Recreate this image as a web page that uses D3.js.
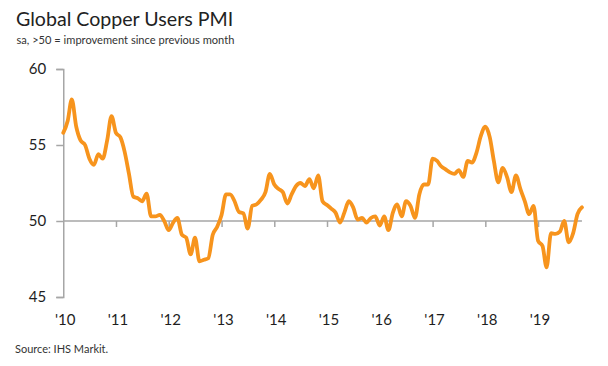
<!DOCTYPE html>
<html>
<head>
<meta charset="utf-8">
<script src="https://cdn.jsdelivr.net/npm/d3@7"></script>
<style>
  html, body { margin: 0; padding: 0; background: #fff; }
  svg { display: block; }
  text { font-family: "Source Sans Pro", "Lato", "Noto Sans", sans-serif; }
</style>
</head>
<body>
<svg id="chart" width="608" height="366"></svg>
<script>
// ---- data ----
const title = "Global Copper Users PMI";
const subtitle = "sa, >50 = improvement since previous month";
const source = "Source: IHS Markit.";
const startMonth = "2010-01";
const pmiValues = [
  55.8, 56.6, 58.0, 56.2, 55.3, 55.0, 54.1, 53.7, 54.4, 54.1, 55.3, 56.9,   // 2010
  55.8, 55.5, 54.6, 53.1, 51.6, 51.5, 51.3, 51.8, 50.3, 50.3, 50.4, 50.0,   // 2011
  49.4, 49.9, 50.2, 49.1, 48.9, 47.8, 48.9, 47.35, 47.45, 47.55, 49.1, 49.6, // 2012
  50.4, 51.75, 51.75, 51.3, 50.6, 50.5, 49.5, 51.0, 51.1, 51.4, 51.9, 53.1, // 2013
  52.4, 52.1, 51.9, 51.15, 51.75, 52.3, 52.5, 52.3, 52.75, 52.15, 53.0, 51.3, // 2014
  51.05, 50.8, 50.55, 49.9, 50.55, 51.3, 50.9, 50.1, 50.2, 49.9, 50.2, 50.3, // 2015
  49.7, 50.3, 49.4, 50.55, 51.1, 50.3, 51.3, 51.0, 50.2, 51.75, 52.4, 52.4, // 2016
  54.1, 53.95, 53.6, 53.4, 53.2, 53.1, 53.35, 52.9, 53.95, 53.85, 54.5, 55.6, // 2017
  56.2, 55.5, 53.95, 52.55, 53.5, 52.87, 51.9, 53.0, 52.1, 51.3, 50.45, 51.0, // 2018
  48.7, 48.35, 46.95, 49.2, 49.15, 49.3, 50.0, 48.6, 49.2, 50.45, 50.9       // 2019
];
const yTicks = [45, 50, 55, 60];
const yDomain = [45, 60];
const xTickYears = [2010, 2011, 2012, 2013, 2014, 2015, 2016, 2017, 2018, 2019];

// ---- build ----
const parse = d3.timeParse("%Y-%m");
const start = parse(startMonth);
const data = pmiValues.map((v, i) => ({ date: d3.timeMonth.offset(start, i), value: v }));
const xTickDates = xTickYears.map(yr => new Date(yr, 0, 1));

const svg = d3.select("#chart");
const plotLeft = 63.25, plotTop = 69, plotBottom = 297;
const monthPx = 52.75 / 12;
const plotRight = plotLeft + (pmiValues.length - 1) * monthPx;

const x = d3.scaleTime().domain([data[0].date, data[data.length - 1].date]).range([plotLeft, plotRight]);
const y = d3.scaleLinear().domain(yDomain).range([plotBottom, plotTop]);

const axisColor = "#a6a6a6";
const textColor = "#1e1e1e";
const fontStack = '"Source Sans Pro", "Lato", "Noto Sans", sans-serif';

// title
svg.append("text").attr("x", 16).attr("y", 26)
  .attr("font-size", 19.6).attr("fill", "#222").text(title);
svg.append("text").attr("x", 16.5).attr("y", 44)
  .attr("font-size", 11.1).attr("fill", "#333").text(subtitle);

// y axis
const yAxis = svg.append("g").attr("transform", `translate(${plotLeft},0)`)
  .call(d3.axisLeft(y).tickValues(yTicks).tickSize(7).tickPadding(10).tickFormat(d3.format("d")));
yAxis.select(".domain").attr("stroke", axisColor).attr("stroke-width", 1.5);
yAxis.selectAll(".tick line").attr("stroke", axisColor).attr("stroke-width", 1.5);
yAxis.selectAll(".tick text").attr("font-size", 15).attr("fill", textColor)
  .style("font-family", fontStack);

// x axis along the 50 line
const xAxis = svg.append("g").attr("transform", `translate(0,${y(50)})`)
  .call(d3.axisBottom(x).tickValues(xTickDates.slice(1)).tickSize(6).tickFormat(""));
xAxis.select(".domain").attr("stroke", axisColor).attr("stroke-width", 1.5)
  .attr("d", `M${plotLeft},0H${plotRight}`);
xAxis.selectAll(".tick line").attr("stroke", axisColor).attr("stroke-width", 1.5);

// year labels at bottom
const yearFmt = d3.timeFormat("'%y");
svg.append("g").selectAll("text").data(xTickDates).join("text")
  .attr("x", d => x(d) + 2).attr("y", 325)
  .attr("text-anchor", "middle").attr("font-size", 15).attr("fill", textColor)
  .text(d => yearFmt(d));

// line
const line = d3.line().x(d => x(d.date)).y(d => y(d.value)).curve(d3.curveMonotoneX);
svg.append("path").datum(data)
  .attr("fill", "none").attr("stroke", "#f7941d").attr("stroke-width", 3.8)
  .attr("stroke-linejoin", "round").attr("stroke-linecap", "round")
  .attr("d", line);

// source
svg.append("text").attr("x", 15).attr("y", 353)
  .attr("font-size", 11).attr("fill", "#333").text(source);
</script>
</body>
</html>
